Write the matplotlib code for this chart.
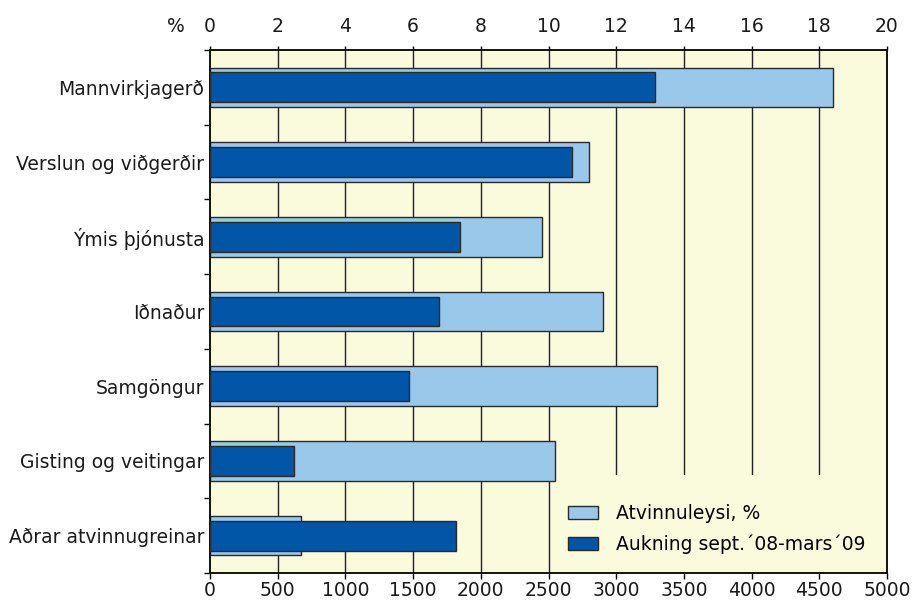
import matplotlib
matplotlib.use("Agg")
import matplotlib.pyplot as plt
from matplotlib.patches import Patch, Rectangle
import numpy as np

categories = ["Mannvirkjagerð", "Verslun og viðgerðir", "Ýmis þjónusta", "Iðnaður",
              "Samgöngur", "Gisting og veitingar", "Aðrar atvinnugreinar"]
unemployment_pct = [18.4, 11.2, 9.8, 11.6, 13.2, 10.2, 2.7]
increase = [3290, 2670, 1850, 1690, 1470, 620, 1820]
bottom_ticks = [0, 500, 1000, 1500, 2000, 2500, 3000, 3500, 4000, 4500, 5000]
top_ticks = [0, 2, 4, 6, 8, 10, 12, 14, 16, 18, 20]

light = "#99C8EB"
dark = "#0055A6"
bg = "#FAFADC"
edge = "#2a2a2a"
tc = "#1a1a1a"

plt.rcParams['font.family'] = ['DejaVu Sans']
fs = 13.5

W, H = 919, 600
fig = plt.figure(figsize=(W / 100, H / 100), dpi=100)
L, R, T, B = 210, 887, 50, 573
ax2 = fig.add_axes([L / W, 1 - B / H, (R - L) / W, (B - T) / H])
ax = ax2.twiny()
# ax: bottom axis (counts), ax2: top axis (%)
ax2.xaxis.tick_top()
ax.xaxis.tick_bottom()
ax2.set_facecolor(bg)

y = np.arange(len(categories))
ax.set_xlim(0, 5000)
ax2.set_xlim(0, 20)
ax2.set_ylim(len(categories) - 0.5, -0.5)
ax.set_ylim(len(categories) - 0.5, -0.5)

for t in top_ticks[1:-1]:
    ax2.axvline(t, color="#222222", lw=1.0, zorder=0.5)

# legend background patch (hides gridlines behind legend)
ax2.add_patch(Rectangle(((553 - L) / (R - L), 0), (R - 553) / (R - L), (B - 475) / (B - T),
                        transform=ax2.transAxes, facecolor=bg, edgecolor='none', zorder=1))

ax2.barh(y, unemployment_pct, height=0.53, color=light, edgecolor=edge, lw=1.0, zorder=2)
ax.barh(y, increase, height=0.40, color=dark, edgecolor=edge, lw=1.0, zorder=3)

ax2.set_yticks(y)
ax2.set_yticklabels(categories, fontsize=fs, color=tc)
ax2.tick_params(axis='y', which='major', length=0, pad=4)
ax2.set_yticks(np.arange(-0.5, len(categories) + 0.5, 1.0), minor=True)
ax2.tick_params(axis='y', which='minor', length=4, direction='out', width=1)

ax.set_xticks(bottom_ticks)
ax.set_xticklabels([str(t) for t in bottom_ticks], fontsize=fs, color=tc)
ax.tick_params(axis='x', length=4, direction='out', width=1, pad=2)

ax2.set_xticks(top_ticks)
ax2.set_xticklabels([str(t) for t in top_ticks], fontsize=fs, color=tc)
ax2.tick_params(axis='x', length=3, direction='out', width=1, pad=7)

for a in (ax, ax2):
    for s in a.spines.values():
        s.set_linewidth(1.2)
        s.set_color("#111111")

fig.text(176 / W, 1 - 27 / H, "%", fontsize=fs, color=tc, ha='center', va='center')

handles = [Patch(facecolor=light, edgecolor=edge, label="Atvinnuleysi, %"),
           Patch(facecolor=dark, edgecolor=edge, label="Aukning sept.´08-mars´09")]
leg = ax.legend(handles=handles, loc='center left',
                bbox_to_anchor=((568 - L) / (R - L), (B - 528.75) / (B - T)),
                fontsize=fs, frameon=False, borderpad=0, borderaxespad=0,
                handlelength=1.6, handleheight=0.7, handletextpad=0.95, labelspacing=0.6)
leg.set_zorder(10)

fig.savefig("out.png", dpi=100)
